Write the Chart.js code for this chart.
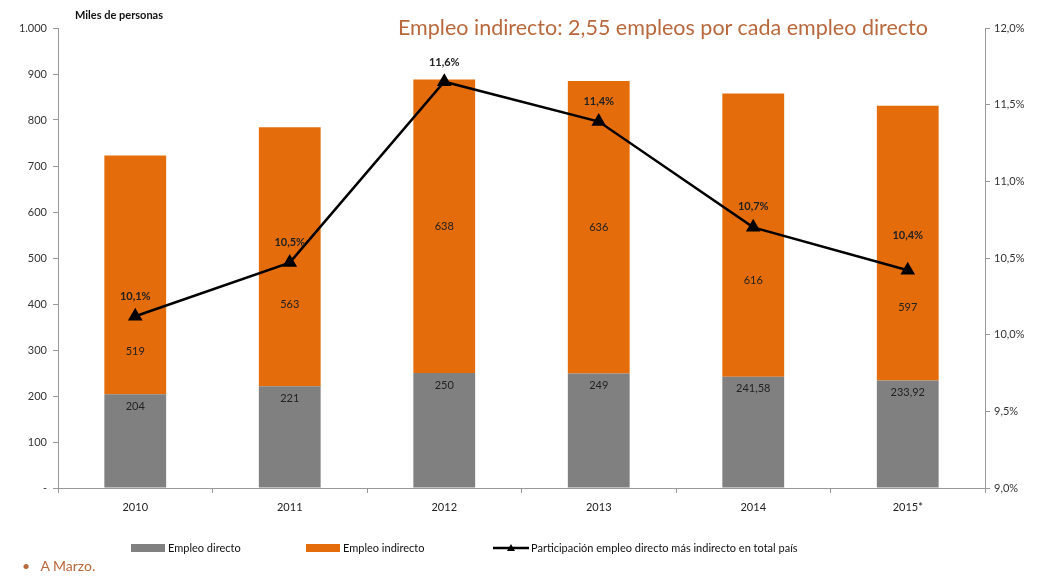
<!DOCTYPE html>
<html>
<head>
<meta charset="utf-8">
<script src="https://cdn.jsdelivr.net/npm/chart.js@4/dist/chart.umd.min.js"></script>
<style>
    html, body { margin: 0; padding: 0; background: #fff; }
    #wrap { position: relative; width: 1037px; height: 578px; font-family: Lato, "Open Sans", sans-serif; }
    #title { position: absolute; left: 398px; top: 14px; font-size: 21.5px; color: #b8683c; white-space: nowrap; }
    #units { position: absolute; left: 75px; top: 8px; font-size: 11px; font-weight: bold; color: #111; }
    #legend { position: absolute; top: 541px; left: 0; font-size: 11px; color: #111; }
    #legend .item { position: absolute; white-space: nowrap; display: flex; align-items: center; }
    #legend .box { display: inline-block; width: 34px; height: 8px; margin-right: 3px; }
    #note { position: absolute; left: 22px; top: 557px; font-size: 14px; color: #b8683c; }
</style>
</head>
<body>
<div id="wrap">
    <canvas id="chart" width="1037" height="578"></canvas>
    <div id="title">Empleo indirecto: 2,55 empleos por cada empleo directo</div>
    <div id="units">Miles de personas</div>
    <div id="legend">
        <div class="item" style="left:131px"><span class="box" style="background:#808080"></span>Empleo directo</div>
        <div class="item" style="left:306px"><span class="box" style="background:#e46c0a"></span>Empleo indirecto</div>
        <div class="item" style="left:493px"><svg width="36" height="10" style="margin-right:2px"><line x1="0" y1="5" x2="36" y2="5" stroke="#000" stroke-width="2.5"/><polygon points="18,1 22,8 14,8" fill="#000"/></svg>Participación empleo directo más indirecto en total país</div>
    </div>
    <div id="note">&bull;&nbsp;&nbsp; A Marzo.</div>
</div>
<script>
    const years = ["2010", "2011", "2012", "2013", "2014", "2015*"];
    const directo = [204, 221, 250, 249, 241.58, 233.92];
    const indirecto = [519, 563, 638, 636, 616, 597];
    const participacion = [10.12, 10.47, 11.65, 11.39, 10.70, 10.42];
    const participacionLabels = ["10,1%", "10,5%", "11,6%", "11,4%", "10,7%", "10,4%"];

    const fmtNum = v => (Math.round(v * 100) / 100).toString().replace(".", ",");

    // labels drawn by hand, like Excel data labels
    const labelPlugin = {
        id: "labels",
        afterDatasetsDraw(chart) {
            const ctx = chart.ctx;
            ctx.save();
            ctx.font = "11px Lato, 'Open Sans', sans-serif";
            ctx.textAlign = "center";
            ctx.textBaseline = "middle";
            ctx.fillStyle = "#222";

            const gray = chart.getDatasetMeta(0).data;
            gray.forEach((bar, i) => {
                ctx.fillText(fmtNum(directo[i]), bar.x, bar.y + 12);
            });

            // orange segment labels, pushed away from the line where needed
            const shift = [77, 48, 0, 0, 45, 64];
            const orange = chart.getDatasetMeta(1).data;
            orange.forEach((bar, i) => {
                const mid = (bar.y + bar.base) / 2;
                ctx.fillText(indirecto[i], bar.x, mid + shift[i]);
            });

            ctx.font = "bold 11px Lato, 'Open Sans', sans-serif";
            const pts = chart.getDatasetMeta(2).data;
            const up = [20, 20, 19, 20, 21, 35];
            pts.forEach((p, i) => {
                ctx.fillText(participacionLabels[i], p.x, p.y - up[i]);
            });
            ctx.restore();
        }
    };

    new Chart(document.getElementById("chart"), {
        data: {
            labels: years,
            datasets: [
                {
                    type: "bar",
                    label: "Empleo directo",
                    data: directo,
                    backgroundColor: "#808080",
                    stack: "s",
                    yAxisID: "y",
                    categoryPercentage: 1,
                    barPercentage: 0.40,
                    order: 2
                },
                {
                    type: "bar",
                    label: "Empleo indirecto",
                    data: indirecto,
                    backgroundColor: "#e46c0a",
                    stack: "s",
                    yAxisID: "y",
                    categoryPercentage: 1,
                    barPercentage: 0.40,
                    order: 2
                },
                {
                    type: "line",
                    label: "Participación empleo directo más indirecto en total país",
                    data: participacion,
                    yAxisID: "y1",
                    borderColor: "#000",
                    borderWidth: 2.5,
                    pointStyle: "triangle",
                    pointRadius: 6,
                    pointBackgroundColor: "#000",
                    pointBorderColor: "#000",
                    tension: 0,
                    order: 1
                }
            ]
        },
        options: {
            responsive: false,
            animation: false,
            layout: { padding: { top: 28, left: 0, right: 0, bottom: 0 } },
            plugins: {
                legend: { display: false },
                tooltip: { enabled: false }
            },
            scales: {
                x: {
                    stacked: true,
                    grid: { display: true, drawOnChartArea: false, offset: true, tickLength: 5, color: "#999" },
                    border: { color: "#999" },
                    ticks: { color: "#222", font: { family: "Lato", size: 11 }, padding: 8 },
                    afterFit: s => { s.height = 90; }
                },
                y: {
                    stacked: true,
                    position: "left",
                    min: 0,
                    max: 1000,
                    grid: { drawOnChartArea: false, tickLength: 5, color: "#999" },
                    border: { color: "#999" },
                    ticks: {
                        stepSize: 100,
                        color: "#333",
                        font: { family: "Lato", size: 11 },
                        padding: 6,
                        callback: v => v === 0 ? "-" : (v === 1000 ? "1.000" : String(v))
                    },
                    afterFit: s => { s.width = 58; }
                },
                y1: {
                    position: "right",
                    min: 9,
                    max: 12,
                    grid: { drawOnChartArea: false, tickLength: 5, color: "#999" },
                    border: { color: "#999" },
                    ticks: {
                        stepSize: 0.5,
                        color: "#333",
                        font: { family: "Lato", size: 11 },
                        padding: 4,
                        callback: v => v.toFixed(1).replace(".", ",") + "%"
                    },
                    afterFit: s => { s.width = 52; }
                }
            }
        },
        plugins: [labelPlugin]
    });
</script>
</body>
</html>
